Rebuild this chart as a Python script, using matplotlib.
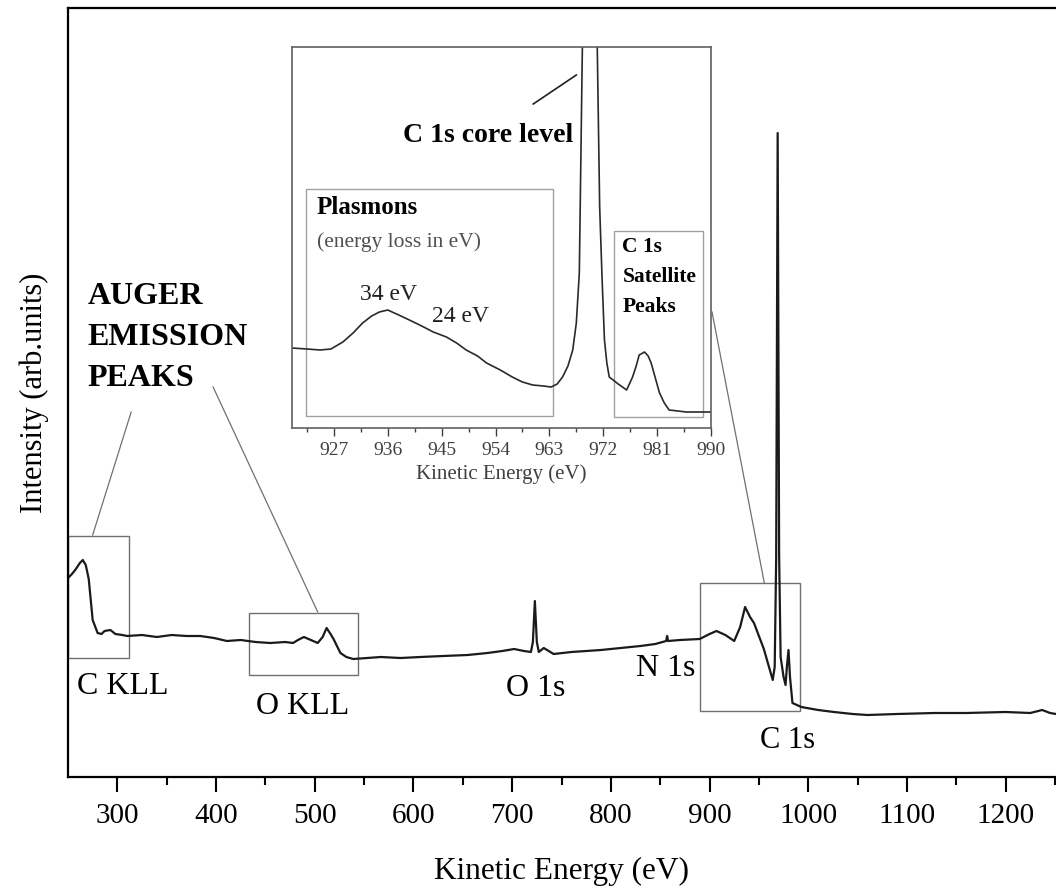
import matplotlib
matplotlib.use("Agg")
import matplotlib.pyplot as plt
from matplotlib.patches import Rectangle
import numpy as np

plt.rcParams['font.family'] = ['Liberation Serif', 'DejaVu Serif']

# Survey spectrum (kinetic energy in eV, intensity in arb. units)
energy = [250, 254, 258, 262, 265, 268, 271, 275, 280, 284, 287, 293, 298, 305, 310,
          325, 340, 355, 370, 384, 398, 411, 425, 440, 455, 470, 478, 483, 489, 496,
          503, 508, 512, 516, 519, 526, 532, 539, 553, 567, 587, 607, 630, 655, 675,
          690, 702, 712, 719, 721, 723, 725, 727, 732, 742, 760, 775, 790, 810, 830,
          845, 856, 857, 858, 870, 890, 900, 907, 916, 925, 931, 936, 941, 945, 955,
          964, 966, 967.5, 969, 970.5, 972, 975, 977, 978.5, 980, 981.5, 984, 993,
          1010, 1026, 1045, 1060, 1090, 1128, 1160, 1200, 1225, 1237, 1245, 1251]
intensity = [199, 203, 208, 214, 217, 212, 198, 157, 144, 143, 146, 147, 143, 142, 141,
             142, 140, 142, 141, 141, 139, 136, 137, 135, 134, 135, 134, 137, 140, 137,
             134, 140, 149, 143, 138, 124, 120, 118, 119, 120, 119, 120, 121, 122, 124,
             126, 128, 126, 125, 135, 176, 135, 125, 129, 123, 125, 126, 127, 129, 131,
             133, 136, 141, 136, 137, 138, 143, 146, 142, 136, 150, 170, 160, 154, 128,
             97, 110, 220, 644, 220, 120, 100, 92, 112, 127, 100, 74, 70,
             67, 65, 63, 62, 63, 64, 64, 65, 64, 67, 64, 63]

# Inset: C 1s region
inset_energy = [920, 922.5, 924.7, 926.5, 928.5, 930.2, 931.8, 933.3, 934.6, 936,
                938.2, 940.3, 942, 943.6, 945.8, 947.5, 949.1, 951, 952.5, 954.8,
                956.8, 958.5, 960.2, 962, 963.3, 964.3, 965.2, 966.1, 966.9, 967.5,
                968.0, 968.6, 969.7, 970.9, 971.4, 971.8, 972.2, 972.6, 973, 974.5,
                975.9, 976.9, 977.5, 978, 978.9, 979.5, 980, 980.7, 981.4, 982.2,
                983, 984.5, 985.8, 988, 990]
inset_intensity = [80, 79, 78, 79, 86, 95, 105, 112, 116, 118,
                   112, 106, 101, 96, 91, 85, 78, 72, 65, 58,
                   51, 46, 43, 42, 41, 44, 51, 62, 78, 105,
                   155, 420, 1200, 420, 221, 150, 88, 65, 51, 44,
                   38, 51, 62, 73, 76, 72, 65, 50, 35, 25,
                   18, 17, 16, 16, 16]
inset_ticks = [927, 936, 945, 954, 963, 972, 981, 990]

fig = plt.figure(figsize=(10.56, 8.93), dpi=100)
ax = fig.add_axes([68 / 1056, 1 - 777 / 893, 1 - 68 / 1056, 769 / 893])
ax.plot(energy, intensity, color='#1a1a1a', lw=1.6)
ax.set_xlim(250, 1251)
ax.set_ylim(0, 769)
ax.set_yticks([])
ax.set_xticks(range(300, 1201, 100))
ax.set_xticks(range(350, 1251, 100), minor=True)
ax.tick_params(axis='x', which='major', direction='out', length=11, width=1.5,
               labelsize=21, pad=8)
ax.tick_params(axis='x', which='minor', direction='out', length=6, width=1.5)
ax.spines['right'].set_visible(False)
for s in ['left', 'top', 'bottom']:
    ax.spines[s].set_linewidth(1.6)
ax.set_xlabel('Kinetic Energy (eV)', fontsize=22.5, labelpad=20)
ax.set_ylabel('Intensity (arb.units)', fontsize=22, labelpad=14)

box_kw = dict(fill=False, edgecolor='#707070', lw=1.0)
ax.add_patch(Rectangle((250, 119), 62, 122, **box_kw))
ax.add_patch(Rectangle((433, 102), 111, 62, **box_kw))
ax.add_patch(Rectangle((890, 66), 102, 128, **box_kw))

ax.text(305, 90, 'C KLL', fontsize=23, ha='center', va='center')
ax.text(488, 70, 'O KLL', fontsize=23, ha='center', va='center')
ax.text(724, 89, 'O 1s', fontsize=23, ha='center', va='center')
ax.text(856, 109, 'N 1s', fontsize=23, ha='center', va='center')
ax.text(979, 37, 'C 1s', fontsize=22, ha='center', va='center')

for i, word in enumerate(['AUGER', 'EMISSION', 'PEAKS']):
    ax.text(270, 480 - 40.5 * i, word, fontsize=23, fontweight='bold',
            ha='left', va='center')

ax.plot([314, 275], [365, 242], color='#707070', lw=0.9)
ax.plot([397, 503], [390, 165], color='#707070', lw=0.9)
ax.plot([902.5, 955.5], [465, 194], color='#707070', lw=0.9)

# inset
ins = fig.add_axes([292 / 1056, 1 - 428 / 893, 419 / 1056, 381 / 893])
ins.plot(inset_energy, inset_intensity, color='#2a2a2a', lw=1.2)
ins.set_xlim(920, 990)
ins.set_ylim(0, 381)
ins.set_yticks([])
ins.set_xticks(inset_ticks)
ins.set_xticks([922.5 + 9 * k for k in range(8)], minor=True)
ins.tick_params(axis='x', which='major', direction='out', length=6, width=1.0,
                labelsize=14, colors='#404040', pad=4)
ins.tick_params(axis='x', which='minor', direction='out', length=3, width=1.0,
                colors='#404040')
for s in ins.spines.values():
    s.set_color('#606060')
    s.set_linewidth(1.2)
ins.set_xlabel('Kinetic Energy (eV)', fontsize=15, color='#404040', labelpad=4)

ibox_kw = dict(fill=False, edgecolor='#a0a0a0', lw=1.0)
ins.add_patch(Rectangle((922.4, 12), 41.2, 227, **ibox_kw))
ins.add_patch(Rectangle((973.8, 11), 14.8, 186, **ibox_kw))

ins.text(967.0, 293, 'C 1s core level', fontsize=20, fontweight='bold',
         ha='right', va='center')
ins.plot([960.3, 967.5], [324, 353], color='#202020', lw=1.2)
ins.text(924.1, 220, 'Plasmons', fontsize=18, fontweight='bold', ha='left', va='center')
ins.text(924.1, 186, '(energy loss in eV)', fontsize=15.5, color='#505050',
         ha='left', va='center')
ins.text(936.1, 133, '34 eV', fontsize=17, ha='center', va='center', color='#202020')
ins.text(948.1, 111, '24 eV', fontsize=17, ha='center', va='center', color='#202020')
ins.text(975.2, 181, 'C 1s', fontsize=15.5, fontweight='bold', ha='left', va='center')
ins.text(975.2, 151, 'Satellite', fontsize=15.5, fontweight='bold', ha='left', va='center')
ins.text(975.2, 121, 'Peaks', fontsize=15.5, fontweight='bold', ha='left', va='center')

fig.savefig('out.png', dpi=100)
